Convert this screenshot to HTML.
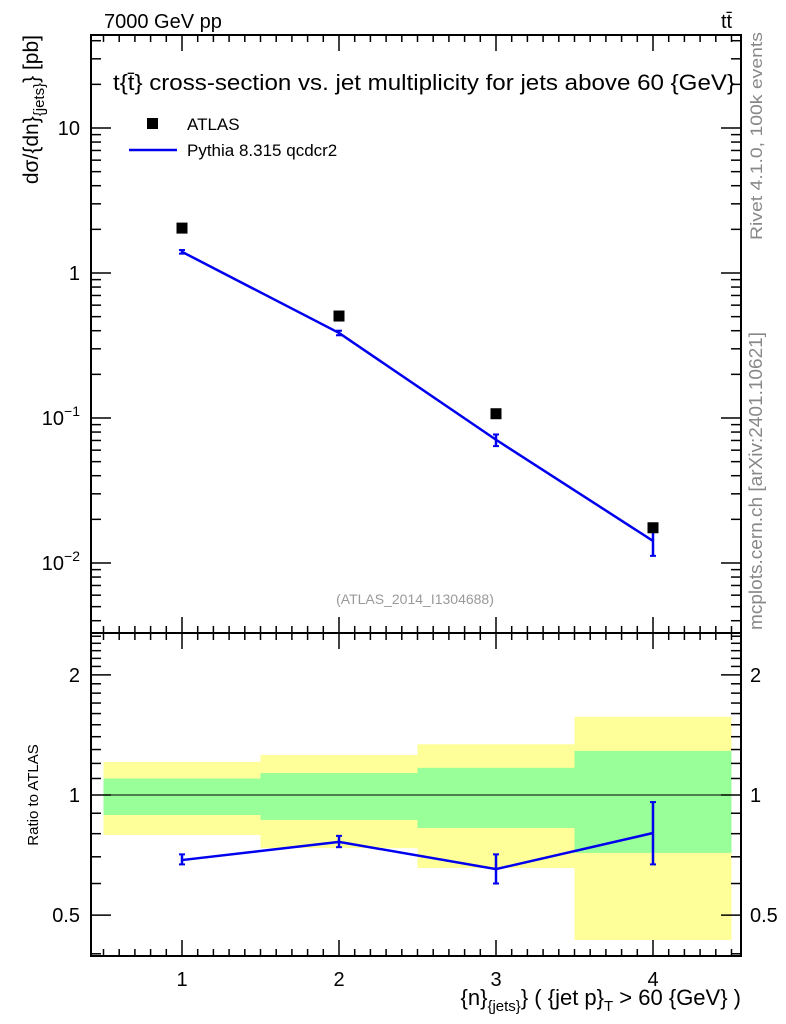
<!DOCTYPE html>
<html><head><meta charset="utf-8"><style>
body{margin:0;background:#fff}
svg{display:block;font-family:"Liberation Sans",sans-serif}
</style></head><body>
<svg id="c" width="786" height="1024"></svg>
<script>
const categories=[1,2,3,4];
const atlasValues=[2.04,0.505,0.107,0.0175];
const pythiaValues=[1.40,0.386,0.0708,0.0142];
const pythiaErrLo=[1.36,0.372,0.064,0.0112];
const pythiaErrHi=[1.44,0.40,0.077,0.0165];
const ratioValues=[0.687,0.763,0.652,0.803];
const ratioErrLo=[0.67,0.74,0.60,0.67];
const ratioErrHi=[0.71,0.79,0.71,0.96];
const yellowHi=[1.21,1.26,1.34,1.57];
const yellowLo=[0.794,0.736,0.656,0.433];
const greenHi=[1.10,1.135,1.17,1.29];
const greenLo=[0.891,0.866,0.827,0.716];
const mainTicks=[0.01,0.1,1,10];
const mainTickLabels=["10^-2","10^-1","1","10"];
const ratioTicks=[0.5,1,2];
const xTicks=[1,2,3,4];

const L=91,R=741,T=35,M=633,B=956;
const sx=v=>182+157*(v-1);
const sy=v=>273-145*Math.log10(v);
const ry=v=>795-399*Math.log10(v);
const NS="http://www.w3.org/2000/svg";
const svg=document.getElementById('c');
function el(t,a,p){const e=document.createElementNS(NS,t);for(const k in a)e.setAttribute(k,a[k]);(p||svg).appendChild(e);return e;}
function txt(x,y,s,a){const e=el('text',Object.assign({x:x,y:y},a||{}));e.textContent=s;return e;}

for(let i=0;i<categories.length;i++){
  const x0=sx(categories[i]-0.5),x1=sx(categories[i]+0.5);
  const yb=el('rect',{x:x0,y:ry(yellowHi[i]),width:x1-x0,height:ry(yellowLo[i])-ry(yellowHi[i]),fill:'#ffff99'});
  
  
  const gb=el('rect',{x:x0,y:ry(greenHi[i]),width:x1-x0,height:ry(greenLo[i])-ry(greenHi[i]),fill:'#99ff99'});
  
  
}
el('line',{x1:L,x2:R,y1:ry(1),y2:ry(1),stroke:'#000','stroke-width':1});

el('rect',{x:L,y:T,width:R-L,height:M-T,fill:'none',stroke:'#000','stroke-width':2});
el('rect',{x:L,y:M,width:R-L,height:B-M,fill:'none',stroke:'#000','stroke-width':2});

for(let v=0.5;v<=4.55;v+=0.1){
  const x=sx(v);if(x<L||x>R)continue;
  const maj=Math.abs(v-Math.round(v))<0.01;
  const len=maj?16:7;
  [[T,1],[M,-1],[M,1],[B,-1]].forEach(([y,d])=>el('line',{x1:x,x2:x,y1:y,y2:y+d*len,stroke:'#000','stroke-width':1.5}));
}
xTicks.forEach(v=>{const t=txt(sx(v),986,String(v),{'font-size':20,'text-anchor':'middle'});});

for(let d=-3;d<=1;d++)for(let m=1;m<=9;m++){
  const v=m*Math.pow(10,d),y=sy(v);if(y<T||y>M)continue;
  const len=m==1?20:10;
  el('line',{x1:L,x2:L+len,y1:y,y2:y,stroke:'#000','stroke-width':1.5});
  el('line',{x1:R,x2:R-len,y1:y,y2:y,stroke:'#000','stroke-width':1.5});
}
mainTicks.forEach((v,i)=>{
  const s=mainTickLabels[i],y=sy(v)+7;
  let t;
  if(s.indexOf('^')>=0){const p=s.split('^');t=txt(80,y,'',{'font-size':20,'text-anchor':'end'});
    const a=el('tspan',{},t);a.textContent=p[0];const b=el('tspan',{dy:-9,'font-size':14},t);b.textContent=p[1].replace('-','\u2212');}
  else t=txt(80,y,s,{'font-size':20,'text-anchor':'end'});
  
});
for(let v=0.4;v<=2.55;v+=0.1){
  const y=ry(v);if(y<M||y>B)continue;
  const maj=[0.5,1,2].some(k=>Math.abs(k-v)<0.01);const len=maj?20:10;
  el('line',{x1:L,x2:L+len,y1:y,y2:y,stroke:'#000','stroke-width':1.5});
  el('line',{x1:R,x2:R-len,y1:y,y2:y,stroke:'#000','stroke-width':1.5});
}
ratioTicks.forEach(v=>{
  const a=txt(80,ry(v)+7,String(v),{'font-size':20,'text-anchor':'end'});
  const b=txt(750,ry(v)+7,String(v),{'font-size':20});
});

const pl=el('polyline',{points:categories.map((c,i)=>sx(c)+','+sy(pythiaValues[i])).join(' '),fill:'none',stroke:'#0000ee','stroke-width':2.5});

categories.forEach((c,i)=>{
  const x=sx(c);
  el('line',{x1:x,x2:x,y1:sy(pythiaErrLo[i]),y2:sy(pythiaErrHi[i]),stroke:'#0000ee','stroke-width':2.5});
  el('line',{x1:x-3,x2:x+3,y1:sy(pythiaErrLo[i]),y2:sy(pythiaErrLo[i]),stroke:'#0000ee','stroke-width':2});
  el('line',{x1:x-3,x2:x+3,y1:sy(pythiaErrHi[i]),y2:sy(pythiaErrHi[i]),stroke:'#0000ee','stroke-width':2});
  const r=el('rect',{x:x-5.5,y:sy(atlasValues[i])-5.5,width:11,height:11,fill:'#000'});
  
});
const rl=el('polyline',{points:categories.map((c,i)=>sx(c)+','+ry(ratioValues[i])).join(' '),fill:'none',stroke:'#0000ee','stroke-width':2.5});

categories.forEach((c,i)=>{
  const x=sx(c);
  el('line',{x1:x,x2:x,y1:ry(ratioErrLo[i]),y2:ry(ratioErrHi[i]),stroke:'#0000ee','stroke-width':2.5});
  el('line',{x1:x-3,x2:x+3,y1:ry(ratioErrLo[i]),y2:ry(ratioErrLo[i]),stroke:'#0000ee','stroke-width':2});
  el('line',{x1:x-3,x2:x+3,y1:ry(ratioErrHi[i]),y2:ry(ratioErrHi[i]),stroke:'#0000ee','stroke-width':2});
});
</script>
<svg width="786" height="1024" style="position:absolute;left:0;top:0;font-family:'Liberation Sans',sans-serif">
<text x="104" y="28" font-size="20">7000 GeV pp</text>
<text x="721" y="28" font-size="20">tt̄</text>
<text x="113" y="90" font-size="22" textLength="622" lengthAdjust="spacingAndGlyphs">t{t̄} cross-section vs. jet multiplicity for jets above 60 {GeV}</text>
<rect x="147" y="118" width="11" height="11" fill="#000"/>
<text x="187" y="130" font-size="17">ATLAS</text>
<line x1="129" x2="177" y1="150" y2="150" stroke="#0000ee" stroke-width="2.5"/>
<text x="187" y="156" font-size="17">Pythia 8.315 qcdcr2</text>
<text x="415" y="604" font-size="14" fill="#999" text-anchor="middle">(ATLAS_2014_I1304688)</text>
<text transform="translate(38,35) rotate(-90)" font-size="21" text-anchor="end">dσ/{dn}<tspan font-size="15" dy="6">{jets}</tspan><tspan dy="-6">} [pb]</tspan></text>
<text transform="translate(38,795) rotate(-90)" font-size="15" text-anchor="middle">Ratio to ATLAS</text>
<text x="741" y="1005" font-size="22" text-anchor="end">{n}<tspan font-size="15" dy="6">{jets}</tspan><tspan dy="-6">} ( {jet p}</tspan><tspan font-size="15" dy="6">T</tspan><tspan dy="-6"> &gt; 60 {GeV} )</tspan></text>
<text transform="translate(762,240) rotate(-90)" font-size="17" fill="#888" textLength="208" lengthAdjust="spacingAndGlyphs">Rivet 4.1.0,  100k events</text>
<text transform="translate(762,630) rotate(-90)" font-size="18" fill="#888" textLength="298" lengthAdjust="spacingAndGlyphs">mcplots.cern.ch [arXiv:2401.10621]</text>
</svg>
</body></html>
